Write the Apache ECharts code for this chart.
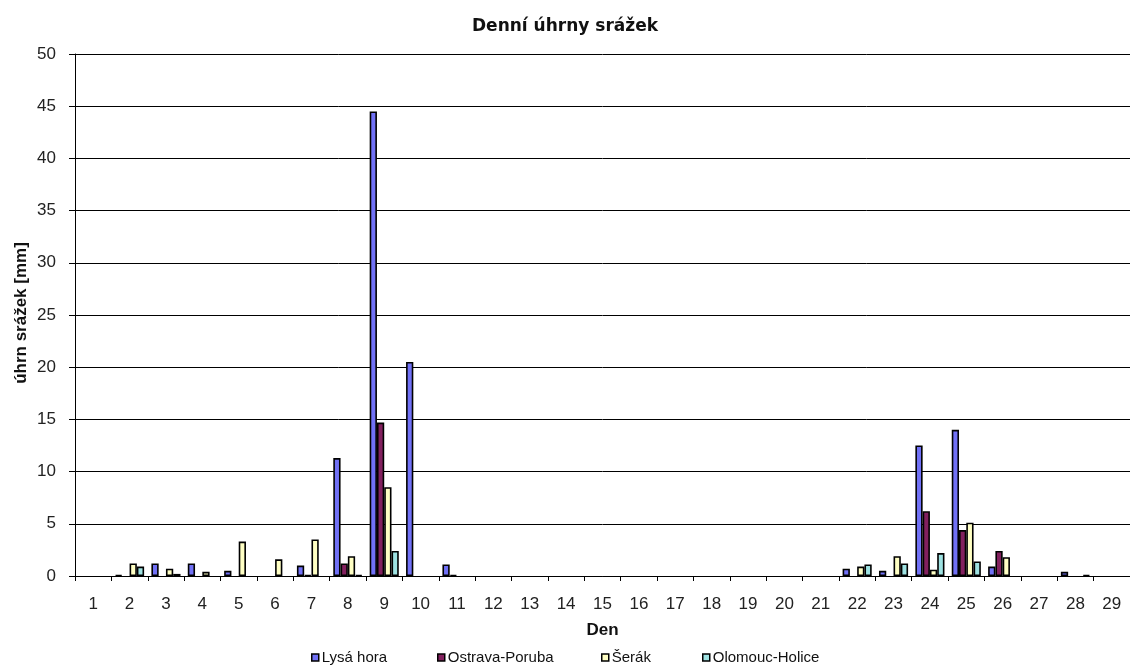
<!DOCTYPE html>
<html>
<head>
<meta charset="utf-8">
<script src="https://cdn.jsdelivr.net/npm/echarts@6/dist/echarts.min.js"></script>
<style>
  html, body { margin: 0; padding: 0; background: #fff; }
  #chart { width: 1130px; height: 666px; }
</style>
</head>
<body>
<div id="chart"></div>
<script>
// Days of the month (category axis)
const days = ['1','2','3','4','5','6','7','8','9','10','11','12','13','14','15','16','17','18','19','20','21','22','23','24','25','26','27','28','29'];

// Daily precipitation totals [mm] per station
const lysaHora      = [0, 0.1, 1.2, 1.2, 0.5, 0, 1.0, 11.3, 44.5, 20.5, 1.1, 0, 0, 0, 0, 0, 0, 0, 0, 0, 0, 0.7, 0.5, 12.5, 14.0, 0.9, 0, 0.4, 0];
const ostravaPoruba = [0, 0, 0, 0, 0, 0, 0.1, 1.2, 14.7, 0, 0.1, 0, 0, 0, 0, 0, 0, 0, 0, 0, 0, 0, 0, 6.2, 4.4, 2.4, 0, 0, 0];
const serak         = [0, 1.2, 0.7, 0.4, 3.3, 1.6, 3.5, 1.9, 8.5, 0, 0, 0, 0, 0, 0, 0, 0, 0, 0, 0, 0, 0.9, 1.9, 0.6, 5.1, 1.8, 0, 0, 0];
const olomoucHolice = [0, 0.9, 0.2, 0, 0, 0, 0, 0.1, 2.4, 0, 0, 0, 0, 0, 0, 0, 0, 0, 0, 0, 0, 1.1, 1.2, 2.2, 1.4, 0, 0, 0.1, 0];

// Value axis ticks
const yMin = 0, yMax = 50, yStep = 5;

const stations = [
  { name: 'Lysá hora',      data: lysaHora,      color: '#7171F6' },
  { name: 'Ostrava-Poruba', data: ostravaPoruba, color: '#82205E' },
  { name: 'Šerák',          data: serak,         color: '#FFFFC4' },
  { name: 'Olomouc-Holice', data: olomoucHolice, color: '#9EE2E2' }
];
const legendLeft = [311, 437, 601, 702];

const font = '"Liberation Sans", Arial, sans-serif';

const chart = echarts.init(document.getElementById('chart'), null, { renderer: 'canvas' });

chart.setOption({
  animation: false,
  backgroundColor: '#ffffff',
  textStyle: { fontFamily: font, color: '#111' },
  title: {
    text: 'Denní úhrny srážek',
    left: 'center',
    top: 13,
    textStyle: { fontFamily: '"DejaVu Sans", sans-serif', fontSize: 17, fontWeight: 'bold', color: '#111' }
  },
  // Vertical value-axis caption
  graphic: [{
    type: 'text',
    x: 21,
    y: 313,
    rotation: Math.PI / 2,
    style: {
      text: 'úhrn srážek [mm]',
      font: 'bold 17px "Liberation Sans", Arial, sans-serif',
      fill: '#111',
      textAlign: 'center',
      textVerticalAlign: 'middle'
    }
  }],
  legend: stations.map((s, i) => ({
    data: [s.name],
    left: legendLeft[i],
    top: 650,
    icon: 'rect',
    itemWidth: 7,
    itemHeight: 7,
    itemGap: 0,
    padding: 0,
    itemStyle: { borderColor: '#000', borderWidth: 1.5 },
    textStyle: { fontFamily: font, fontSize: 15, color: '#111', padding: [0, 0, 0, -2] }
  })),
  grid: {
    left: 75,
    top: 54,
    width: 1058.5,
    height: 522
  },
  xAxis: {
    type: 'category',
    data: days,
    name: 'Den',
    nameLocation: 'middle',
    nameGap: 46,
    nameTextStyle: { fontFamily: font, fontSize: 17, fontWeight: 'bold', color: '#111' },
    axisLine: { lineStyle: { color: '#000', width: 1 } },
    axisTick: { show: true, length: 5, lineStyle: { color: '#000' } },
    axisLabel: { fontFamily: font, fontSize: 17, color: '#222', margin: 20 },
    splitLine: { show: false }
  },
  yAxis: {
    type: 'value',
    min: yMin,
    max: yMax,
    interval: yStep,
    axisLine: { show: true, lineStyle: { color: '#000', width: 1 } },
    axisTick: { show: true, length: 6, lineStyle: { color: '#000' } },
    axisLabel: { fontFamily: font, fontSize: 17, color: '#222', margin: 19 },
    splitLine: { show: true, lineStyle: { color: '#000', width: 1 } }
  },
  series: stations.map(s => ({
    name: s.name,
    type: 'bar',
    data: s.data.map(v => (v === 0 ? '-' : v)),
    barGap: '0%',
    barCategoryGap: '20%',
    itemStyle: { color: s.color, borderColor: '#000', borderWidth: 1.6 },
    emphasis: { disabled: true }
  }))
});
</script>
</body>
</html>
